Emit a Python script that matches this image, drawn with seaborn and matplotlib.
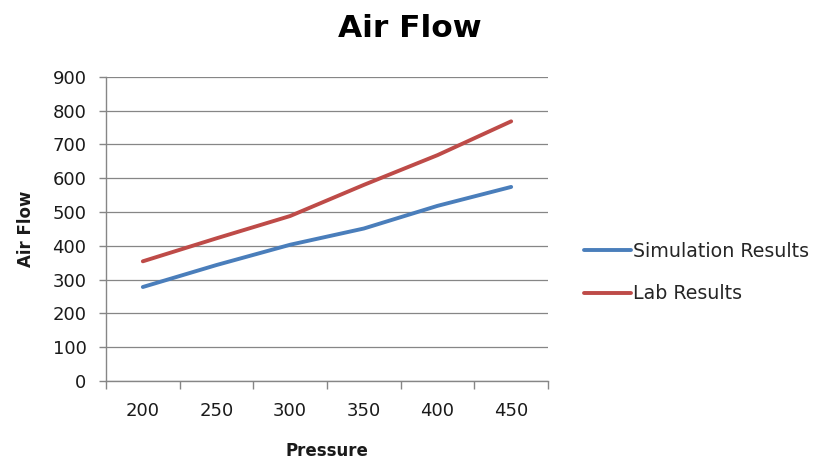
import matplotlib
matplotlib.use("Agg")
import matplotlib.pyplot as plt
import seaborn as sns
import pandas as pd
from matplotlib.ticker import FixedLocator, MultipleLocator

pressure = ["200", "250", "300", "350", "400", "450"]
simulation = [278, 343, 403, 451, 518, 574]
lab = [354, 422, 488, 580, 668, 768]
series_names = ["Simulation Results", "Lab Results"]
colors = ["#4A7EBB", "#BE4B48"]

df = pd.DataFrame({
    "Pressure": pressure * 2,
    "Air Flow": simulation + lab,
    "Series": [series_names[0]] * len(pressure) + [series_names[1]] * len(pressure),
})

sns.set_style("white")
plt.rcParams["font.family"] = ["DejaVu Sans"]

W, H = 835, 461
fig = plt.figure(figsize=(W / 100, H / 100), dpi=100)
L, R, T, B = 106, 548, 76.7, 381
ax = fig.add_axes([L / W, 1 - B / H, (R - L) / W, (B - T) / H])

sns.lineplot(data=df, x="Pressure", y="Air Flow", hue="Series",
             palette=colors, linewidth=2.8, ax=ax, sort=False,
             legend=True)

grid_c = "#868686"
ax.set_ylim(0, 900)
ax.set_xlim(-0.5, len(pressure) - 0.5)
ax.yaxis.set_major_locator(MultipleLocator(100))
ax.grid(axis="y", color=grid_c, linewidth=0.9)
ax.grid(axis="x", visible=False)
ax.set_axisbelow(True)
for s in ["top", "right"]:
    ax.spines[s].set_visible(False)
for s in ["left", "bottom"]:
    ax.spines[s].set_color(grid_c)
    ax.spines[s].set_linewidth(1.0)

ax.xaxis.set_minor_locator(FixedLocator([i - 0.5 for i in range(len(pressure) + 1)]))
ax.tick_params(axis="x", which="major", length=0, pad=15, labelsize=13, labelcolor="#1a1a1a")
ax.tick_params(axis="x", which="minor", length=6, width=1, color=grid_c, direction="out", bottom=True)
ax.tick_params(axis="y", which="major", length=5, width=1, color=grid_c, direction="out",
               pad=9, labelsize=13, labelcolor="#1a1a1a", left=True)

ax.set_xlabel("Pressure", fontsize=12, fontweight="bold", color="#1a1a1a")
ax.set_ylabel("Air Flow", fontsize=12, fontweight="bold", color="#1a1a1a")
ax.xaxis.set_label_coords(0.5, -0.2)
ax.yaxis.set_label_coords(-0.16, 0.5)

fig.text(409.5 / W, 1 - 37 / H, "Air Flow", fontsize=22.5, fontweight="bold",
         ha="center", va="baseline", color="#000000")

handles, labels = ax.get_legend_handles_labels()
ax.get_legend().remove()
fig.legend(handles, labels, loc="center left",
           bbox_to_anchor=(584 / W, 1 - 272.5 / H), frameon=False,
           fontsize=13.7, handlelength=2.45, handletextpad=0.15,
           labelspacing=1.25, borderpad=0, borderaxespad=0)

fig.savefig("out.png", dpi=100)
